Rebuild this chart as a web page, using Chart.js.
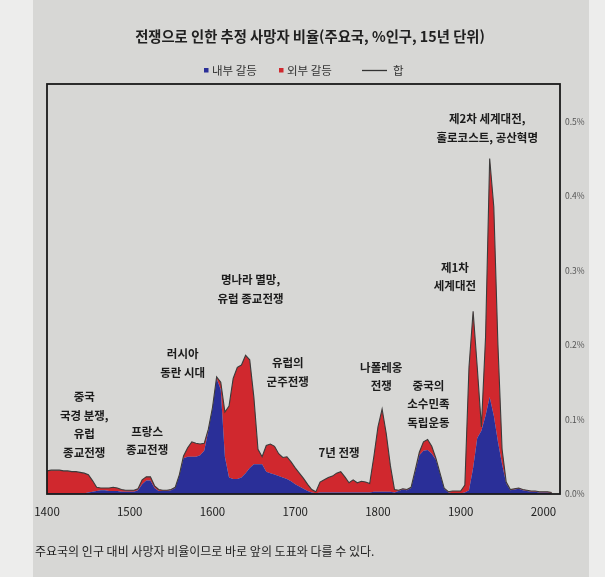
<!DOCTYPE html>
<html lang="ko">
<head>
<meta charset="utf-8">
<script src="https://cdn.jsdelivr.net/npm/chart.js@4.4.0/dist/chart.umd.min.js"></script>
<style>
  html, body { margin: 0; padding: 0; }
  #wrap {
    position: relative;
    width: 605px;
    height: 577px;
    background: linear-gradient(to right, #ededec 0 33px, #d7d7d5 33px 589px, #ededec 589px);
  }
</style>
</head>
<body>
<div id="wrap"><canvas id="warChart"></canvas></div>
<script>
const years = [
  1400, 1405, 1410, 1415, 1420, 1425, 1430, 1435, 1440, 1445,
  1450, 1455, 1460, 1465, 1470, 1475, 1480, 1485, 1490, 1495,
  1500, 1505, 1510, 1515, 1520, 1525, 1530, 1535, 1540, 1545,
  1550, 1555, 1560, 1565, 1570, 1575, 1580, 1585, 1590, 1595,
  1600, 1605, 1610, 1615, 1620, 1625, 1630, 1635, 1640, 1645,
  1650, 1655, 1660, 1665, 1670, 1675, 1680, 1685, 1690, 1695,
  1700, 1705, 1710, 1715, 1720, 1725, 1730, 1735, 1740, 1745,
  1750, 1755, 1760, 1765, 1770, 1775, 1780, 1785, 1790, 1795,
  1800, 1805, 1810, 1815, 1820, 1825, 1830, 1835, 1840, 1845,
  1850, 1855, 1860, 1865, 1870, 1875, 1880, 1885, 1890, 1895,
  1900, 1905, 1910, 1915, 1920, 1925, 1930, 1935, 1940, 1945,
  1950, 1955, 1960, 1965, 1970, 1975, 1980, 1985, 1990, 1995,
  2000, 2005, 2010
];

// 내부 갈등 (% of population)
const internalConflict = [
  0.001, 0.001, 0.001, 0.001, 0.001, 0.001, 0.001, 0.001, 0.001, 0.001,
  0.002, 0.003, 0.004, 0.005, 0.005, 0.004, 0.004, 0.004, 0.003, 0.003,
  0.003, 0.003, 0.005, 0.013, 0.018, 0.018, 0.008, 0.004, 0.004, 0.004,
  0.005, 0.008, 0.025, 0.048, 0.050, 0.050, 0.050, 0.052, 0.058, 0.085,
  0.115, 0.155, 0.140, 0.050, 0.022, 0.020, 0.020, 0.022, 0.028, 0.035,
  0.040, 0.040, 0.040, 0.030, 0.028, 0.026, 0.024, 0.022, 0.020, 0.017,
  0.013, 0.010, 0.007, 0.004, 0.002, 0.001, 0.002, 0.002, 0.002, 0.002,
  0.002, 0.002, 0.002, 0.002, 0.002, 0.002, 0.002, 0.002, 0.002, 0.003,
  0.003, 0.003, 0.003, 0.003, 0.002, 0.004, 0.006, 0.005, 0.008, 0.030,
  0.052, 0.058, 0.059, 0.054, 0.046, 0.027, 0.007, 0.002, 0.001, 0.001,
  0.001, 0.002, 0.005, 0.035, 0.075, 0.085, 0.105, 0.130, 0.105, 0.070,
  0.040, 0.014, 0.005, 0.006, 0.007, 0.005, 0.004, 0.003, 0.003, 0.002,
  0.002, 0.002, 0.001
];

// 외부 갈등 (% of population)
const externalConflict = [
  0.030, 0.031, 0.031, 0.031, 0.030, 0.030, 0.029, 0.029, 0.028, 0.027,
  0.024, 0.015, 0.005, 0.003, 0.003, 0.004, 0.005, 0.004, 0.003, 0.002,
  0.002, 0.002, 0.002, 0.006, 0.005, 0.005, 0.003, 0.002, 0.001, 0.001,
  0.001, 0.001, 0.001, 0.003, 0.012, 0.020, 0.018, 0.015, 0.010, 0.002,
  0.001, 0.002, 0.010, 0.060, 0.096, 0.135, 0.150, 0.151, 0.158, 0.145,
  0.090, 0.020, 0.010, 0.035, 0.039, 0.038, 0.030, 0.027, 0.030, 0.026,
  0.022, 0.018, 0.014, 0.009, 0.004, 0.002, 0.014, 0.017, 0.020, 0.022,
  0.026, 0.028, 0.021, 0.013, 0.017, 0.013, 0.015, 0.014, 0.012, 0.047,
  0.087, 0.111, 0.078, 0.035, 0.004, 0.001, 0.001, 0.001, 0.001, 0.002,
  0.004, 0.012, 0.014, 0.010, 0.002, 0.001, 0.001, 0.001, 0.003, 0.003,
  0.003, 0.010, 0.165, 0.210, 0.095, 0.005, 0.105, 0.320, 0.280, 0.130,
  0.020, 0.002, 0.001, 0.001, 0.001, 0.001, 0.001, 0.001, 0.001, 0.001,
  0.001, 0.001, 0.001
];

const yearTicks = [1400, 1500, 1600, 1700, 1800, 1900, 2000];
const pctTicks = [0, 0.1, 0.2, 0.3, 0.4, 0.5];

const titleText = "전쟁으로 인한 추정 사망자 비율(주요국, %인구, 15년 단위)";
const footText = "주요국의 인구 대비 사망자 비율이므로 바로 앞의 도표와 다를 수 있다.";

// event labels: year / value of first line
const noteLines = [
  ["중국", "국경 분쟁,", "유럽", "종교전쟁"],
  ["프랑스", "종교전쟁"],
  ["러시아", "동란 시대"],
  ["명나라 멸망,", "유럽 종교전쟁"],
  ["유럽의", "군주전쟁"],
  ["7년 전쟁"],
  ["나폴레옹", "전쟁"],
  ["중국의", "소수민족", "독립운동"],
  ["제1차", "세계대전"],
  ["제2차 세계대전,", "홀로코스트, 공산혁명"]
];
const noteYears = [1445, 1521, 1564, 1646, 1691, 1753, 1804, 1861, 1893, 1932];
const noteValues = [0.130, 0.084, 0.188, 0.287, 0.176, 0.056, 0.170, 0.146, 0.304, 0.503];

const FONT = "'Noto Sans CJK KR', 'Noto Sans', sans-serif";
const BLUE = "#2a2f98";
const RED = "#d0282e";
Chart.defaults.font.family = FONT;

const extrasPlugin = {
  id: "extras",
  afterDatasetsDraw(chart) {
    const { ctx, chartArea: a, scales } = chart;
    ctx.save();
    // frame
    ctx.strokeStyle = "#1a1a1a";
    ctx.lineWidth = 1.8;
    ctx.strokeRect(a.left, a.top, a.right - a.left, a.bottom - a.top);

    // event labels
    ctx.fillStyle = "#1b1b1b";
    ctx.font = "bold 11.5px " + FONT;
    ctx.textAlign = "center";
    ctx.textBaseline = "middle";
    noteLines.forEach((lines, i) => {
      const x = scales.x.getPixelForValue(noteYears[i]);
      const y = scales.y.getPixelForValue(noteValues[i]);
      lines.forEach((t, j) => ctx.fillText(t, x, y + j * 18.5));
    });

    // title
    ctx.font = "bold 14.3px " + FONT;
    ctx.fillStyle = "#202020";
    ctx.fillText(titleText, 310, 37);

    // legend
    ctx.font = "11.5px " + FONT;
    ctx.textAlign = "left";
    ctx.fillStyle = BLUE;
    ctx.fillRect(204, 68, 4.5, 4.5);
    ctx.fillStyle = "#333";
    ctx.fillText("내부 갈등", 212, 70.5);
    ctx.fillStyle = RED;
    ctx.fillRect(279, 68, 4.5, 4.5);
    ctx.fillStyle = "#333";
    ctx.fillText("외부 갈등", 287, 70.5);
    ctx.strokeStyle = "#333";
    ctx.lineWidth = 1.3;
    ctx.beginPath();
    ctx.moveTo(362, 70.5);
    ctx.lineTo(387, 70.5);
    ctx.stroke();
    ctx.fillText("합", 393, 70.5);

    // footnote
    ctx.font = "12px " + FONT;
    ctx.fillStyle = "#1e1e1e";
    ctx.fillText(footText, 35, 551);
    ctx.restore();
  }
};

const ctxWar = document.getElementById("warChart");

new Chart(ctxWar, {
  type: "line",
  data: {
    datasets: [
      {
        label: "내부 갈등",
        data: years.map((yr, i) => ({ x: yr, y: internalConflict[i] })),
        backgroundColor: BLUE,
        borderWidth: 0,
        fill: "origin",
        stack: "war",
        pointRadius: 0,
        tension: 0,
      },
      {
        label: "외부 갈등",
        data: years.map((yr, i) => ({ x: yr, y: externalConflict[i] })),
        backgroundColor: RED,
        borderColor: "#3b3b3b", // top edge doubles as the 합 line
        borderWidth: 1.1,
        fill: "-1",
        stack: "war",
        pointRadius: 0,
        tension: 0,
      },
    ],
  },
  options: {
    responsive: true,
    maintainAspectRatio: false,
    animation: false,
    events: [],
    layout: { padding: { top: 84, left: 47, right: 0, bottom: 0 } },
    scales: {
      x: {
        type: "linear",
        min: 1400,
        max: 2020,
        grid: { display: false, drawTicks: false },
        border: { display: false },
        afterBuildTicks: (s) => { s.ticks = yearTicks.map((v) => ({ value: v })); },
        afterFit: (s) => { s.height = 83; },
        ticks: {
          padding: 11,
          autoSkip: false,
          maxRotation: 0,
          color: "#222",
          font: { size: 11.5 },
          callback: (v) => String(v),
        },
      },
      y: {
        position: "right",
        stacked: true,
        min: 0,
        max: 0.55,
        grid: { display: false, drawTicks: false },
        border: { display: false },
        afterBuildTicks: (s) => { s.ticks = pctTicks.map((v) => ({ value: v })); },
        afterFit: (s) => { s.width = 45; },
        ticks: {
          padding: 5,
          color: "#555",
          font: { size: 8.5 },
          callback: (v) => v.toFixed(1) + "%",
        },
      },
    },
    plugins: {
      legend: { display: false },
      tooltip: { enabled: false },
      filler: { drawTime: "beforeDatasetsDraw" },
    },
  },
  plugins: [extrasPlugin],
});
</script>
</body>
</html>
